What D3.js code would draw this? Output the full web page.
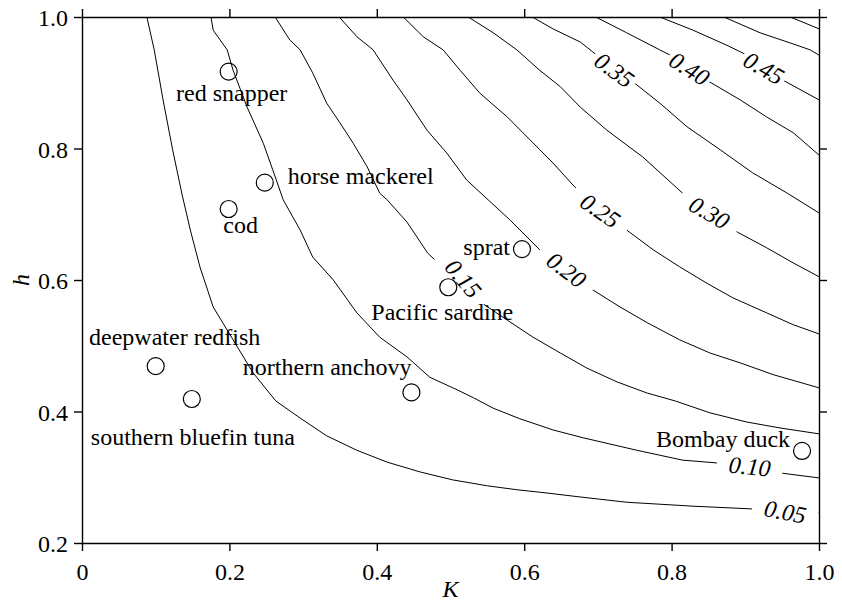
<!DOCTYPE html>
<html>
<head>
<meta charset="utf-8">
<script src="https://cdn.jsdelivr.net/npm/d3@7/dist/d3.min.js"></script>
<style>
  html, body { margin: 0; padding: 0; background: #fff; }
  svg text { font-family: "Liberation Serif", "Times New Roman", serif; fill: #000; }
</style>
</head>
<body>
<svg id="chart" width="842" height="602"></svg>
<script>
// Axis ticks
const kTicks = [0, 0.2, 0.4, 0.6, 0.8, 1.0];
const hTicks = [0.2, 0.4, 0.6, 0.8, 1.0];

// Contour levels and their traced paths, as [K, h] pairs
const levels = [0.05, 0.10, 0.15, 0.20, 0.25, 0.30, 0.35, 0.40, 0.45, 0.50, 0.55];
const c05 = [[0.088,1.000],[0.098,0.950],[0.110,0.874],[0.123,0.798],[0.136,0.729],[0.147,0.676],[0.160,0.620],[0.178,0.559],[0.205,0.509],[0.232,0.459],[0.263,0.416],[0.296,0.390],[0.332,0.363],[0.373,0.341],[0.414,0.323],[0.459,0.308],[0.503,0.296],[0.550,0.287],[0.590,0.281],[0.631,0.276],[0.676,0.270],[0.739,0.262],[0.829,0.256],[0.906,0.252],[1.000,0.246]];
const c10 = [[0.175,1.000],[0.178,0.980],[0.197,0.950],[0.205,0.919],[0.224,0.863],[0.246,0.808],[0.259,0.767],[0.273,0.722],[0.296,0.676],[0.313,0.635],[0.341,0.600],[0.373,0.550],[0.404,0.513],[0.441,0.483],[0.472,0.452],[0.509,0.433],[0.531,0.421],[0.558,0.405],[0.594,0.389],[0.639,0.372],[0.680,0.360],[0.753,0.341],[0.815,0.326],[0.859,0.322],[0.951,0.306],[1.000,0.299]];
const c15 = [[0.262,1.000],[0.282,0.965],[0.296,0.950],[0.313,0.915],[0.332,0.869],[0.350,0.839],[0.368,0.808],[0.387,0.772],[0.404,0.732],[0.414,0.722],[0.441,0.688],[0.469,0.641],[0.502,0.606],[0.536,0.570],[0.577,0.539],[0.612,0.513],[0.649,0.489],[0.685,0.466],[0.726,0.445],[0.767,0.428],[0.805,0.416],[0.852,0.398],[0.902,0.384],[0.947,0.375],[1.000,0.366]];
const c20 = [[0.349,1.000],[0.373,0.970],[0.395,0.950],[0.422,0.904],[0.441,0.874],[0.468,0.828],[0.495,0.793],[0.522,0.752],[0.551,0.722],[0.581,0.691],[0.621,0.646],[0.657,0.615],[0.693,0.585],[0.730,0.559],[0.767,0.535],[0.811,0.509],[0.852,0.489],[0.893,0.474],[0.938,0.456],[1.000,0.436]];
const c25 = [[0.436,1.000],[0.463,0.970],[0.490,0.950],[0.513,0.919],[0.540,0.884],[0.577,0.848],[0.608,0.813],[0.639,0.778],[0.669,0.741],[0.703,0.706],[0.739,0.676],[0.775,0.646],[0.811,0.620],[0.848,0.595],[0.883,0.573],[0.929,0.550],[0.965,0.532],[1.000,0.518]];
const c30 = [[0.524,1.000],[0.558,0.976],[0.590,0.950],[0.621,0.919],[0.649,0.894],[0.676,0.863],[0.712,0.828],[0.761,0.787],[0.815,0.732],[0.852,0.702],[0.889,0.673],[0.929,0.649],[0.965,0.626],[1.000,0.605]];
const c35 = [[0.611,1.000],[0.639,0.982],[0.676,0.962],[0.693,0.947],[0.720,0.922],[0.748,0.901],[0.784,0.869],[0.821,0.833],[0.866,0.798],[0.910,0.763],[0.957,0.732],[1.000,0.702]];
const c40 = [[0.697,1.000],[0.739,0.976],[0.784,0.950],[0.798,0.942],[0.825,0.921],[0.852,0.901],[0.893,0.874],[0.929,0.848],[0.965,0.824],[1.000,0.790]];
const c45 = [[0.784,1.000],[0.829,0.980],[0.875,0.957],[0.897,0.945],[0.925,0.924],[0.951,0.904],[1.000,0.874]];
const c50 = [[0.871,1.000],[0.920,0.976],[0.965,0.959],[0.988,0.950],[1.000,0.942]];
const c55 = [[0.961,1.000],[1.000,0.982]];
const contourPaths = [c05, c10, c15, c20, c25, c30, c35, c40, c45, c50, c55];

// Inline contour labels: text and where they sit in (K, h)
const labelText = ["0.05", "0.10", "0.15", "0.20", "0.25", "0.30", "0.35", "0.40", "0.45"];
const labelK = [0.954, 0.906, 0.517, 0.657, 0.703, 0.851, 0.722, 0.824, 0.925];
const labelH = [0.247, 0.316, 0.602, 0.615, 0.705, 0.702, 0.919, 0.921, 0.922];

// Stocks
const species = ["red snapper", "horse mackerel", "cod", "deepwater redfish", "southern bluefin tuna",
                 "northern anchovy", "Pacific sardine", "sprat", "Bombay duck"];
const speciesK = [0.199, 0.248, 0.199, 0.100, 0.149, 0.447, 0.497, 0.597, 0.977];
const speciesH = [0.917, 0.748, 0.708, 0.469, 0.419, 0.429, 0.589, 0.647, 0.340];

// ---- layout ----
const plotL = 82, plotR = 819, plotT = 17, plotB = 543;
const fontSize = 24;
// label rotation (deg) and gap cut into the line for each contour label
const labelAngle = [11, 6, 50, 37, 35, 30, 36, 32, 30];
const labelGap = [66, 66, 66, 66, 66, 66, 50, 48, 48];
// species label placement relative to the marker: [anchor, dx, dy]
const speciesPlace = [
  ["middle", 3, 29], ["start", 23, 1], ["middle", 12, 24], ["middle", 19, -21],
  ["middle", 1, 46], ["end", 0, -17], ["middle", -6, 33], ["end", -12, 6], ["end", -12, -4]
];

const svg = d3.select("#chart");
const x = d3.scaleLinear().domain([0, 1]).range([plotL, plotR]);
const y = d3.scaleLinear().domain([0.2, 1]).range([plotB, plotT]);

const defs = svg.append("defs");
defs.append("clipPath").attr("id", "plotClip")
  .append("rect").attr("x", plotL).attr("y", plotT).attr("width", plotR - plotL).attr("height", plotB - plotT);

const mask = defs.append("mask").attr("id", "labelGaps")
  .attr("maskUnits", "userSpaceOnUse").attr("x", 0).attr("y", 0).attr("width", 842).attr("height", 602);
mask.append("rect").attr("x", 0).attr("y", 0).attr("width", 842).attr("height", 602).attr("fill", "#fff");
labelText.forEach((t, i) => {
  const cx = x(labelK[i]), cy = y(labelH[i]);
  mask.append("rect")
    .attr("x", -labelGap[i] / 2).attr("y", -12).attr("width", labelGap[i]).attr("height", 24)
    .attr("fill", "#000")
    .attr("transform", `translate(${cx},${cy}) rotate(${labelAngle[i]})`);
});

// contour lines
const line = d3.line().x(d => x(d[0])).y(d => y(d[1]));
svg.append("g")
  .attr("clip-path", "url(#plotClip)")
  .append("g")
  .attr("mask", "url(#labelGaps)")
  .selectAll("path")
  .data(contourPaths)
  .join("path")
  .attr("d", line)
  .attr("fill", "none")
  .attr("stroke", "#000")
  .attr("stroke-width", 1);

// contour labels
svg.append("g").selectAll("text")
  .data(labelText)
  .join("text")
  .attr("transform", (d, i) => `translate(${x(labelK[i])},${y(labelH[i])}) rotate(${labelAngle[i]})`)
  .attr("text-anchor", "middle")
  .attr("dy", "0.33em")
  .attr("font-style", "italic")
  .attr("font-size", fontSize)
  .text(d => d);

// axes: labelled on bottom/left, ticks only on top/right
const fmt = d => d === 0 ? "0" : d.toFixed(1);
const axStyle = g => {
  g.selectAll("path.domain").attr("stroke", "#000").attr("stroke-width", 1.4);
  g.selectAll(".tick line").attr("stroke", "#000").attr("stroke-width", 1.4);
  g.selectAll(".tick text").attr("font-size", fontSize).attr("font-family", "Liberation Serif, serif").attr("fill", "#000");
};
svg.append("g").attr("transform", `translate(0,${plotB})`)
  .call(d3.axisBottom(x).tickValues(kTicks).tickFormat(fmt).tickSize(8).tickSizeOuter(0).tickPadding(6))
  .call(axStyle)
  .call(g => g.selectAll(".tick text").attr("dy", null).attr("y", 37));
svg.append("g").attr("transform", `translate(0,${plotT})`)
  .call(d3.axisTop(x).tickValues(kTicks).tickFormat("").tickSize(8).tickSizeOuter(0))
  .call(axStyle);
svg.append("g").attr("transform", `translate(${plotL},0)`)
  .call(d3.axisLeft(y).tickValues(hTicks).tickFormat(fmt).tickSize(8).tickSizeOuter(0).tickPadding(6))
  .call(axStyle)
  .call(g => g.selectAll(".tick text").attr("x", -14).attr("dy", "0.36em"));
svg.append("g").attr("transform", `translate(${plotR},0)`)
  .call(d3.axisRight(y).tickValues(hTicks).tickFormat("").tickSize(8).tickSizeOuter(0))
  .call(axStyle);

// axis titles
svg.append("text")
  .attr("x", x(0.5)).attr("y", 597)
  .attr("text-anchor", "middle")
  .attr("font-style", "italic").attr("font-size", fontSize)
  .text("K");
svg.append("text")
  .attr("transform", `translate(29,${y(0.6)}) rotate(-90)`)
  .attr("text-anchor", "middle")
  .attr("font-style", "italic").attr("font-size", fontSize)
  .text("h");

// stock markers and names
const pts = svg.append("g");
pts.selectAll("circle")
  .data(species)
  .join("circle")
  .attr("cx", (d, i) => x(speciesK[i]))
  .attr("cy", (d, i) => y(speciesH[i]))
  .attr("r", 8.5)
  .attr("fill", "none")
  .attr("stroke", "#000")
  .attr("stroke-width", 1.2);
pts.selectAll("text")
  .data(species)
  .join("text")
  .attr("x", (d, i) => x(speciesK[i]) + speciesPlace[i][1])
  .attr("y", (d, i) => y(speciesH[i]) + speciesPlace[i][2])
  .attr("text-anchor", (d, i) => speciesPlace[i][0])
  .attr("font-size", fontSize)
  .text(d => d);
</script>
</body>
</html>
